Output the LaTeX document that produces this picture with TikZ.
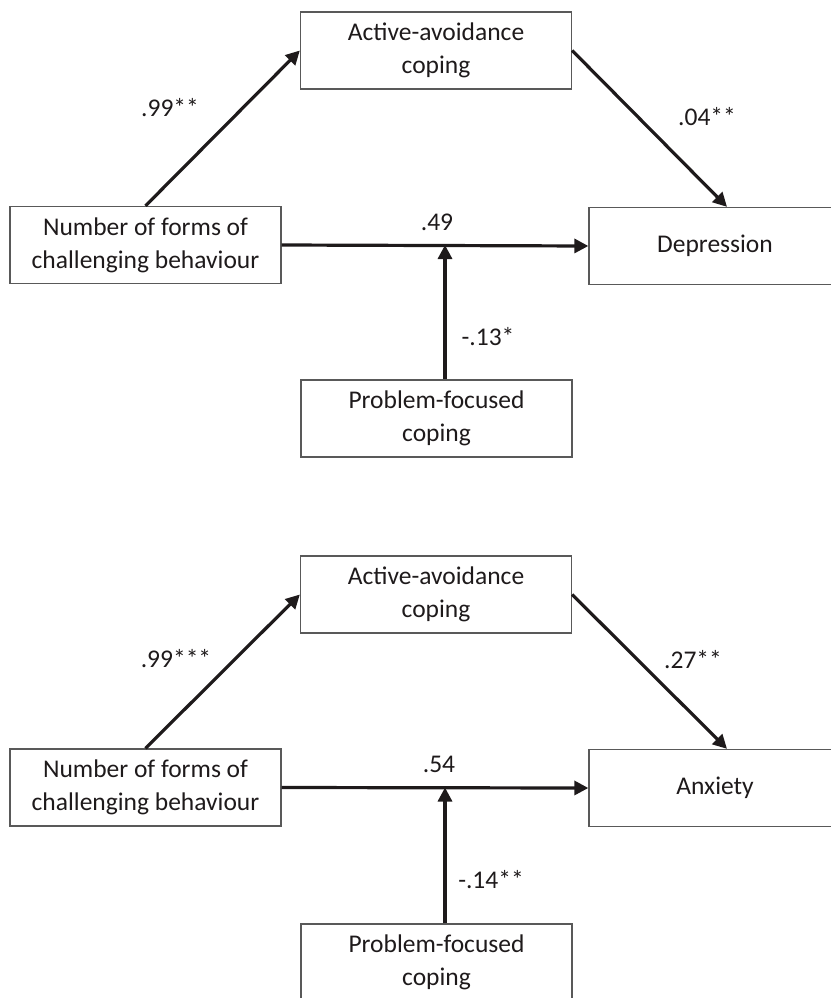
\documentclass[tikz,border=0pt]{standalone}
\usepackage{fontspec}
\setmainfont{Carlito}
\usetikzlibrary{arrows.meta}
\definecolor{ink}{HTML}{1E1A1B}

\begin{document}
\begin{tikzpicture}[x=1pt,y=-1pt,>={Triangle[length=14pt,width=14pt]},
  font=\fontsize{25.5}{33}\selectfont,text=ink,
  box/.style={draw=black!65,line width=1.3pt,minimum width=271pt,minimum height=77pt,align=center,inner sep=0pt},
  wide/.style={box,minimum width=252pt},
  link/.style={->,line width=3.2pt,draw=ink}]
\useasboundingbox (0,0) rectangle (830,998);
% top panel: depression
\node[box] (act1) at (436,50.5) {Active-avoidance\\coping};
\node[box] (num1) at (145.5,245) {Number of forms of\\challenging behaviour};
\node[wide] (dep) at (715,246) {Depression};
\node[box] (prob1) at (436.5,418.5) {Problem-focused\\coping};
\coordinate (mod1) at ([xshift=8.5]prob1.north |- num1.east);
\draw[link] (num1.north) -- (act1.west);
\draw[link] (act1.east) -- ([xshift=12]dep.north);
\draw[link] (num1.east) -- (dep.west);
\draw[link] ([xshift=8.5]prob1.north) -- (mod1);
\node (a1) at (170,108) {.99**};
\node (b1) at (707,117) {.04**};
\node (c1) at (437,222) {.49};
\node (d1) at (488,337) {-.13*};
% bottom panel: anxiety
\node[box] (act2) at (436,594.5) {Active-avoidance\\coping};
\node[box] (num2) at (145.5,787.5) {Number of forms of\\challenging behaviour};
\node[wide] (anx) at (715,788) {Anxiety};
\node[box] (prob2) at (436.5,962.5) {Problem-focused\\coping};
\coordinate (mod2) at ([xshift=8.5]prob2.north |- num2.east);
\draw[link] (num2.north) -- (act2.west);
\draw[link] (act2.east) -- ([xshift=12]anx.north);
\draw[link] (num2.east) -- (anx.west);
\draw[link] ([xshift=8.5]prob2.north) -- (mod2);
\node (a2) at (176,659) {.99***};
\node (b2) at (693,660) {.27**};
\node (c2) at (439,764) {.54};
\node (d2) at (491,880) {-.14**};
\end{tikzpicture}
\end{document}
